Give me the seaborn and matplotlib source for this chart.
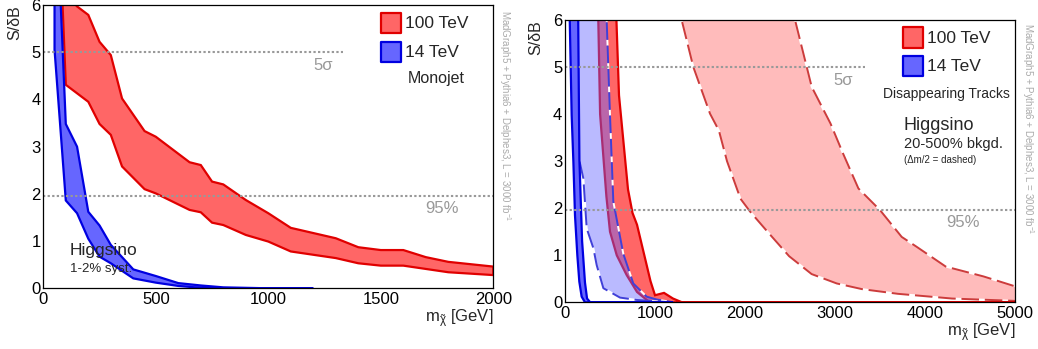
import numpy as np
import matplotlib
matplotlib.use("Agg")
import matplotlib.pyplot as plt
from matplotlib.patches import Rectangle
from matplotlib.ticker import MultipleLocator
import seaborn as sns

# ---------------- Monojet search (left panel) ----------------
mono100_up_x = [60, 100, 150, 200, 250, 300, 350, 450, 500, 650, 700, 750, 800, 900,
                1000, 1100, 1300, 1400, 1500, 1600, 1700, 1800, 2000]
mono100_up_y = [12.0, 6.25, 5.97, 5.79, 5.22, 4.94, 4.02, 3.33, 3.21, 2.67, 2.61, 2.26, 2.20, 1.87,
                1.59, 1.28, 1.06, 0.87, 0.81, 0.81, 0.66, 0.56, 0.46]
mono100_lo_x = [60, 100, 200, 250, 300, 350, 450, 500, 650, 700, 750, 800, 900,
                1000, 1100, 1300, 1400, 1500, 1600, 1700, 1800, 2000]
mono100_lo_y = [9.0, 4.31, 3.95, 3.48, 3.25, 2.58, 2.10, 2.01, 1.66, 1.61, 1.39, 1.34, 1.13,
                0.99, 0.78, 0.64, 0.53, 0.48, 0.48, 0.41, 0.34, 0.28]

mono14_up_x = [50, 100, 150, 200, 250, 300, 400, 500, 600, 700, 800, 1000, 1200]
mono14_up_y = [9.1, 3.48, 3.00, 1.62, 1.33, 0.92, 0.40, 0.26, 0.11, 0.06, 0.02, 0.0, 0.0]
mono14_lo_x = [50, 100, 150, 200, 250, 300, 400, 500, 600, 700, 800, 1200]
mono14_lo_y = [5.05, 1.86, 1.59, 1.05, 0.67, 0.53, 0.21, 0.12, 0.05, 0.01, 0.0, 0.0]

# ---------------- Disappearing tracks (right panel) ----------------
dt100_up_x = [500, 600, 700, 750, 800, 900, 950, 1000, 1100, 1200, 1300, 5000]
dt100_up_y = [10.0, 4.4, 2.4, 1.9, 1.65, 0.85, 0.45, 0.15, 0.20, 0.08, 0.0, 0.0]
dt100_lo_x = [340, 390, 460, 500, 575, 685, 800, 940, 5000]
dt100_lo_y = [9.0, 4.0, 2.25, 1.5, 1.0, 0.58, 0.22, 0.0, 0.0]

dt14_up_x = [140, 160, 190, 222, 245, 280, 1200]
dt14_up_y = [7.5, 3.03, 1.30, 0.42, 0.08, 0.0, 0.0]
dt14_lo_x = [40, 74, 93, 111, 137, 159, 185, 222, 1200]
dt14_lo_y = [7.2, 3.98, 2.99, 1.85, 1.00, 0.44, 0.12, 0.0, 0.0]

# half mass splitting (dashed) variants
dm14_up_x = [440, 463, 500, 537, 648, 759, 907, 1019, 1204]
dm14_up_y = [7.0, 6.0, 3.98, 2.14, 1.03, 0.40, 0.12, 0.06, 0.0]
dm14_lo_x = [60, 111, 167, 204, 241, 315, 352, 426, 611, 796, 1170]
dm14_lo_y = [7.0, 3.3, 2.95, 2.63, 1.57, 1.15, 0.79, 0.30, 0.10, 0.05, 0.0]

dm100_up_x = [2500, 2556, 2741, 2950, 3090, 3260, 3500, 3741, 3907, 4230, 4650, 5000]
dm100_up_y = [6.6, 6.0, 4.58, 3.80, 3.16, 2.42, 1.96, 1.39, 1.18, 0.76, 0.55, 0.34]
dm100_lo_x = [1250, 1296, 1426, 1611, 1710, 1800, 1950, 2060, 2250, 2490, 2740, 3020,
              3300, 3700, 4300, 5000]
dm100_lo_y = [6.6, 6.0, 5.0, 4.01, 3.65, 3.0, 2.2, 1.92, 1.5, 0.98, 0.60, 0.40,
              0.28, 0.18, 0.08, 0.03]

sig5 = 5.0
cl95 = 1.96
watermark = r"MadGraph5 + Pythia6 + Delphes3, L = 3000 fb$^{-1}$"

RED_FILL, RED_EDGE = "#ff6666", "#e00000"
BLUE_FILL, BLUE_EDGE = "#6666ff", "#0000e0"
PINK_FILL, PINK_EDGE = "#ffbbbb", "#cc3c3c"
DASH_BLUE = "#4040d8"
GREY = "#999999"

sns.set_theme(style="white")
plt.rcParams["font.family"] = ["Liberation Sans", "DejaVu Sans"]
plt.rcParams["mathtext.fontset"] = "custom"
plt.rcParams["mathtext.rm"] = "Liberation Sans"
plt.rcParams["mathtext.it"] = "Liberation Sans"
plt.rcParams["mathtext.default"] = "regular"

fig = plt.figure(figsize=(10.38, 3.49), dpi=100)
fig.patch.set_facecolor("white")
axL = fig.add_axes([43.3 / 1038, (349 - 288.3) / 349, 450 / 1038, 283.3 / 349])
axR = fig.add_axes([565 / 1038, (349 - 302.3) / 349, 450 / 1038, 282.3 / 349])


def band(ax, ux, uy, lx, ly, face, edge, z, alpha=1.0, lw=1.6):
    xs = list(ux) + list(lx)[::-1]
    ys = list(uy) + list(ly)[::-1]
    ax.fill(xs, ys, facecolor=face, edgecolor=edge if edge else "none",
            lw=lw, alpha=alpha, zorder=z, joinstyle="miter")


def dashed_edge(ax, xs, ys, color, z):
    sns.lineplot(x=xs, y=ys, ax=ax, color=color, lw=1.4, sort=False, estimator=None,
                 legend=False, linestyle=(0, (9, 3)), gapcolor="white", zorder=z)


def style_axes(ax, xmax, xmajor, xminor):
    ax.set_xlim(0, xmax)
    ax.set_ylim(0, 6)
    ax.xaxis.set_major_locator(MultipleLocator(xmajor))
    ax.xaxis.set_minor_locator(MultipleLocator(xminor))
    ax.yaxis.set_major_locator(MultipleLocator(1))
    ax.yaxis.set_minor_locator(MultipleLocator(0.2))
    ax.tick_params(axis="both", which="both", direction="in", top=False, right=False,
                   colors="black", labelsize=12, width=0.8)
    ax.tick_params(axis="y", which="major", length=9.5, pad=2)
    ax.tick_params(axis="y", which="minor", length=5)
    ax.tick_params(axis="x", which="major", length=6.5, pad=3)
    ax.tick_params(axis="x", which="minor", length=3.6)
    for s in ax.spines.values():
        s.set_color("black")
        s.set_linewidth(0.9)
        s.set_zorder(20)
    ax.set_xlabel(r"m$_{\tilde{\chi}}$ [GeV]", fontsize=12)
    ax.xaxis.set_label_coords(1.0, -0.108)
    ax.xaxis.label.set_horizontalalignment("right")
    ax.xaxis.label.set_verticalalignment("center")
    ax.set_ylabel("S/δB", fontsize=11.5)
    ax.yaxis.set_label_coords(-0.064, 1.0)
    ax.yaxis.label.set_rotation_mode("default")
    ax.yaxis.label.set_horizontalalignment("center")
    ax.yaxis.label.set_verticalalignment("top")
    ax.set_facecolor("white")


def legend_boxes(ax, y0):
    for (face, edge, lab, yb) in [(RED_FILL, RED_EDGE, "100 TeV", y0),
                                  (BLUE_FILL, BLUE_EDGE, "14 TeV", y0 - 0.102)]:
        ax.add_patch(Rectangle((0.751, yb), 0.044, 0.072, transform=ax.transAxes,
                               facecolor=face, edgecolor=edge, lw=1.6,
                               joinstyle="round", zorder=30, clip_on=False))
        ax.text(0.804, yb + 0.034, lab, transform=ax.transAxes, fontsize=12.5,
                ha="left", va="center", zorder=31)


def ref_lines(ax, xmax, lab_x5, lab_x95):
    ax.plot([0, xmax * 2 / 3], [sig5, sig5], color=GREY, lw=1.5,
            linestyle=(0, (1.1, 1.1)), zorder=15)
    ax.plot([0, xmax], [cl95, cl95], color=GREY, lw=1.5,
            linestyle=(0, (1.1, 1.1)), zorder=15)
    ax.text(lab_x5, 4.72, "5σ", color=GREY, fontsize=12, ha="center", va="center", zorder=16)
    ax.text(lab_x95, 1.70, "95%", color=GREY, fontsize=12, ha="center", va="center", zorder=16)


# ---- left: monojet ----
style_axes(axL, 2000, 500, 100)
band(axL, mono100_up_x, mono100_up_y, mono100_lo_x, mono100_lo_y, RED_FILL, RED_EDGE, 3)
band(axL, mono14_up_x, mono14_up_y, mono14_lo_x, mono14_lo_y, BLUE_FILL, BLUE_EDGE, 4)
ref_lines(axL, 2000, 1244, 1771)
legend_boxes(axL, 0.900)
axL.text(0.810, 0.742, "Monojet", transform=axL.transAxes, fontsize=11.5,
         ha="left", va="center", zorder=31)
axL.text(0.059, 0.133, "Higgsino", transform=axL.transAxes, fontsize=12.5,
         ha="left", va="center", zorder=31)
axL.text(0.059, 0.068, "1-2% syst.", transform=axL.transAxes, fontsize=9.5,
         ha="left", va="center", zorder=31)
axL.text(1.026, 0.982, watermark, transform=axL.transAxes, rotation=-90, fontsize=7,
         color="#aaaaaa", ha="center", va="top", clip_on=False)

# ---- right: disappearing tracks ----
style_axes(axR, 5000, 1000, 200)
band(axR, dm100_up_x, dm100_up_y, dm100_lo_x, dm100_lo_y, PINK_FILL, None, 2)
dashed_edge(axR, dm100_up_x, dm100_up_y, PINK_EDGE, 2.5)
dashed_edge(axR, dm100_lo_x, dm100_lo_y, PINK_EDGE, 2.5)
band(axR, dt100_up_x, dt100_up_y, dt100_lo_x, dt100_lo_y, RED_FILL, RED_EDGE, 3)
band(axR, dm14_up_x, dm14_up_y, dm14_lo_x, dm14_lo_y, BLUE_FILL, None, 4, alpha=0.45)
dashed_edge(axR, dm14_up_x, dm14_up_y, DASH_BLUE, 4.5)
dashed_edge(axR, dm14_lo_x, dm14_lo_y, DASH_BLUE, 4.5)
band(axR, dt14_up_x, dt14_up_y, dt14_lo_x, dt14_lo_y, BLUE_FILL, BLUE_EDGE, 5)
ref_lines(axR, 5000, 3093, 4426)
legend_boxes(axR, 0.902)
axR.text(0.706, 0.738, "Disappearing Tracks", transform=axR.transAxes, fontsize=10,
         ha="left", va="center", zorder=31)
axR.text(0.753, 0.628, "Higgsino", transform=axR.transAxes, fontsize=13,
         ha="left", va="center", zorder=31)
axR.text(0.753, 0.561, "20-500% bkgd.", transform=axR.transAxes, fontsize=10.5,
         ha="left", va="center", zorder=31)
axR.text(0.753, 0.504, "(Δm/2 = dashed)", transform=axR.transAxes, fontsize=7,
         ha="left", va="center", zorder=31)
axR.text(1.029, 0.989, watermark, transform=axR.transAxes, rotation=-90, fontsize=7,
         color="#aaaaaa", ha="center", va="top", clip_on=False)

fig.savefig("out.png", dpi=100, facecolor="white")
